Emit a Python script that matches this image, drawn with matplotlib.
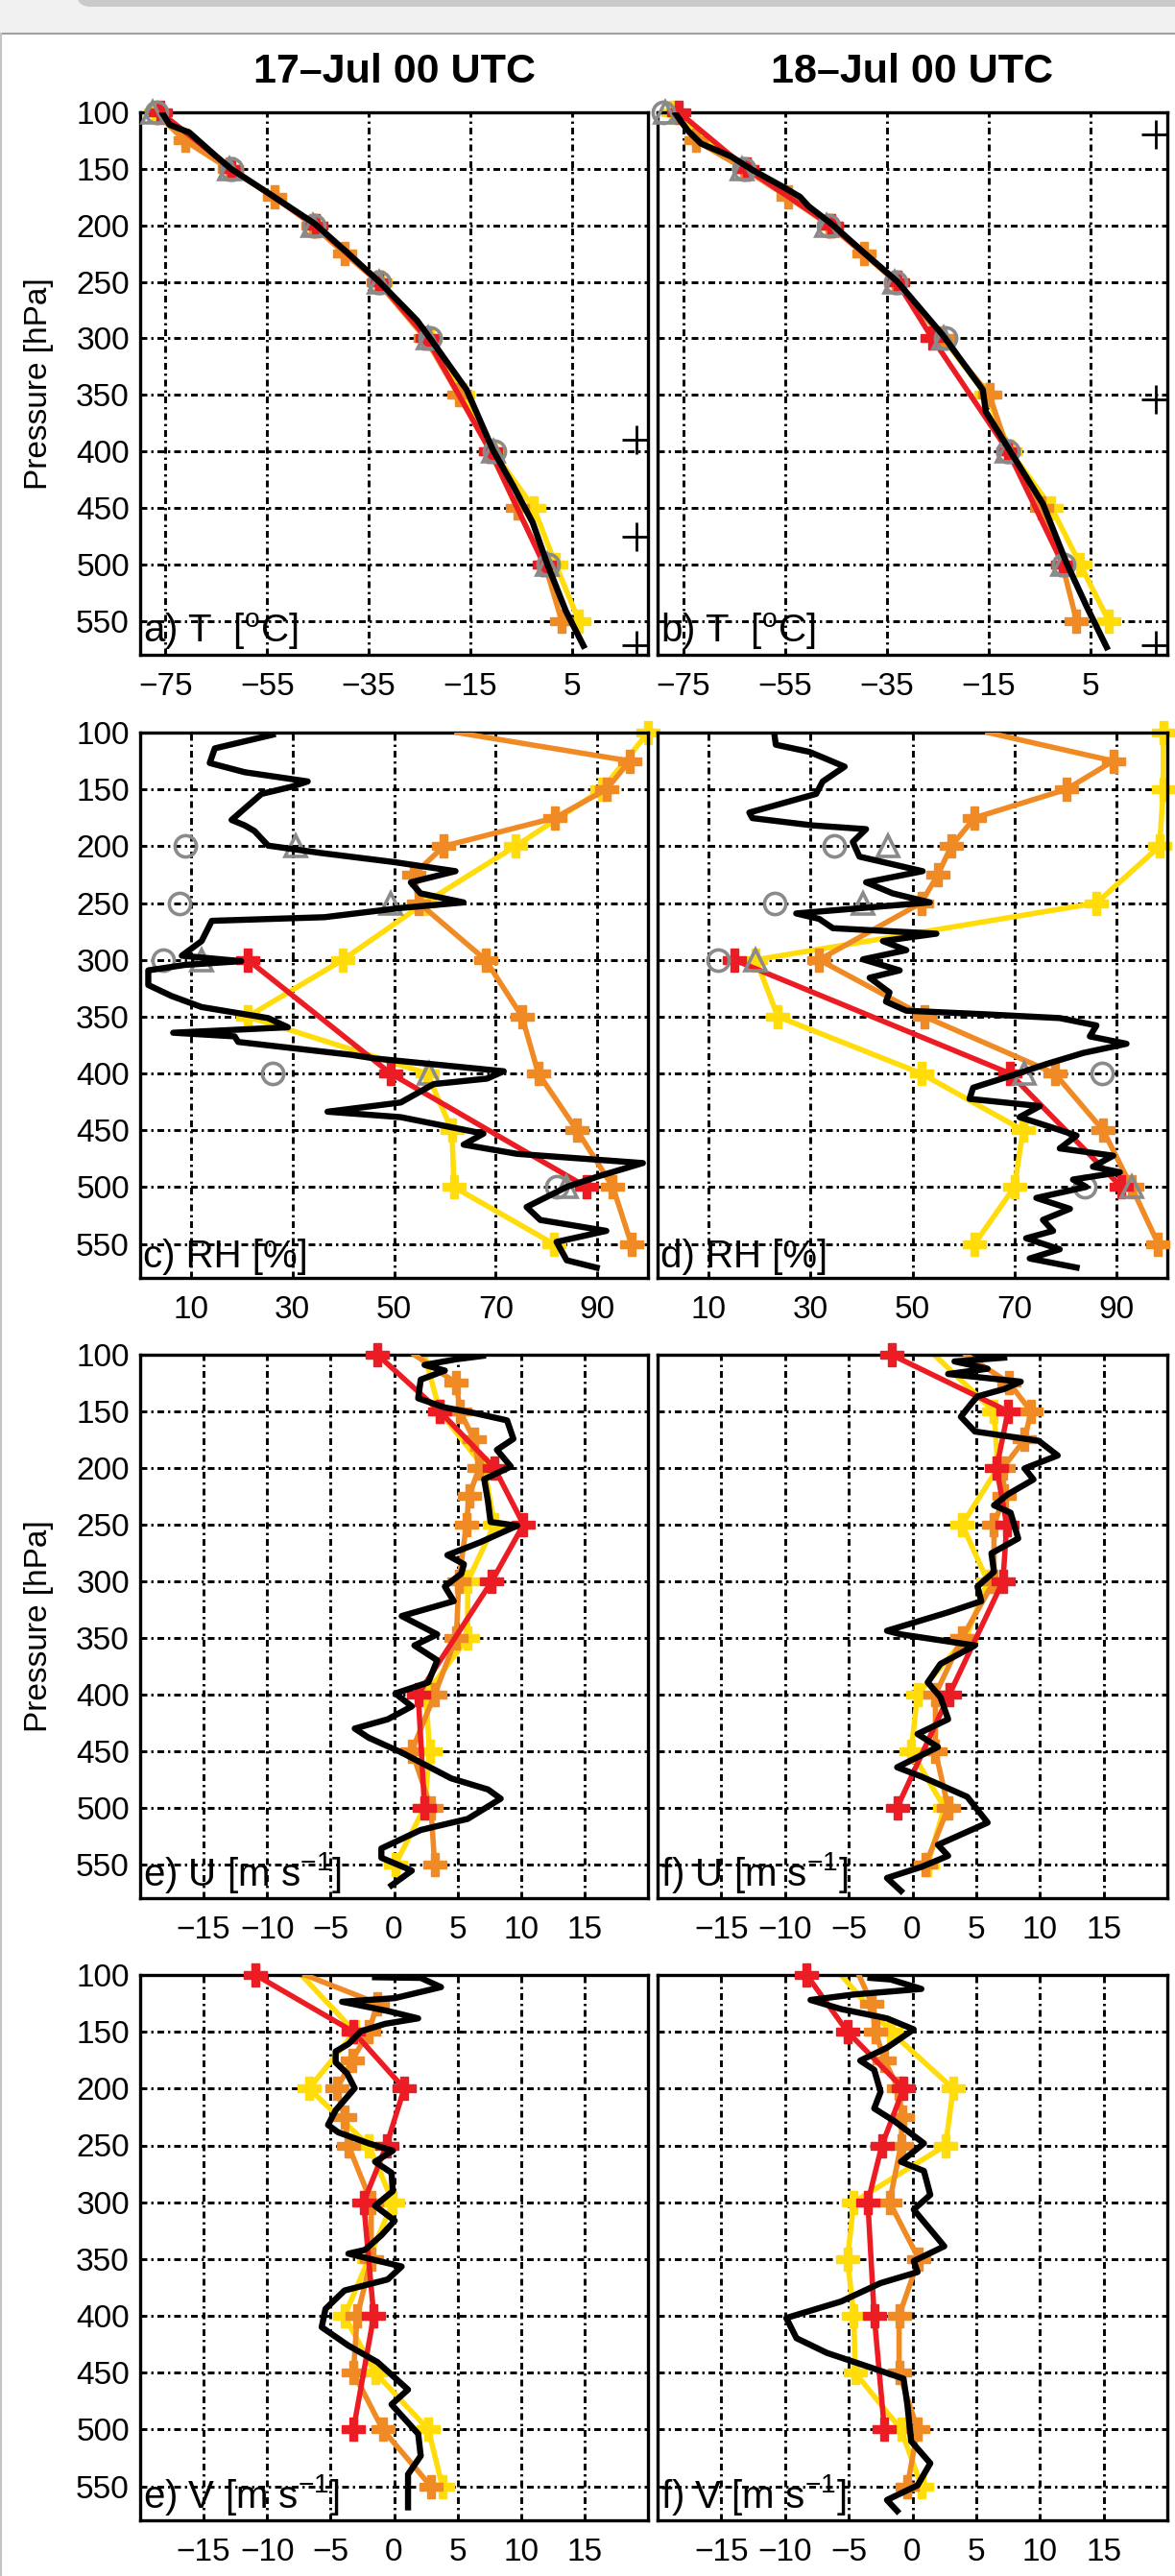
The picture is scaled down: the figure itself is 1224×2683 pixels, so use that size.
import matplotlib
matplotlib.use('Agg')
import matplotlib.pyplot as plt
from matplotlib.patches import Rectangle, FancyBboxPatch
from matplotlib.lines import Line2D
from matplotlib.transforms import IdentityTransform

plt.rcParams['font.family'] = ['Liberation Sans', 'DejaVu Sans']
plt.rcParams['mathtext.default'] = 'regular'

# ---------------- data ----------------
TITLES = ['17\u2013Jul 00 UTC', '18\u2013Jul 00 UTC']
P_OBS = [100, 150, 200, 250, 300, 400, 500]
P_RED = [100, 150, 200, 250, 300, 400, 500]
P_ORANGE = [100, 125, 150, 175, 200, 225, 250, 300, 350, 400, 450, 500, 550]
P_YELLOW = [100, 150, 200, 250, 300, 350, 400, 450, 500, 550]
P_RH_OBS = [200, 250, 300, 400, 500]
P_RH_RED = [300, 400, 500]

# Temperature 17 Jul
T17_black_p = [101.6, 111, 117.9, 139, 150, 171.6, 198.6, 225, 250, 284, 300, 345.6, 399, 430, 463, 500, 541, 572]
T17_black = [-75.5, -74.2, -70.3, -65, -62.1, -54.7, -45.6, -39, -32.9, -25.5, -22.9, -15.7, -10.5, -6.6, -2.7, 0.2, 3.8, 7.3]
T17_circ = [-76.8, -62.1, -45.8, -32.9, -23, -10.2, 0.4]
T17_tri = [-77.5, -62.5, -46, -33, -23.2, -10.5, 0.2]
T17_red = [-76, -62, -45.5, -33, -23.5, -11, -0.5]
T17_orange = [-77, -71.2, -62.5, -53.5, -46, -39.7, -33.2, -23.8, -17.3, -11, -5.8, -0.3, 3.0]
T17_yellow = [-77, -62, -45.5, -32.8, -23, -16.5, -10.5, -2.5, 1.8, 6.4]
T17_plus_p = [389.5, 475.7, 571.7]
T17_plus = [17.7, 17.7, 17.7]

# Temperature 18 Jul
T18_black_p = [101.6, 116, 127.6, 139, 150.4, 166.7, 175, 183, 199, 225, 249.6, 296.8, 345.6, 365, 399.3, 446.5, 498.5, 537.5, 573.3]
T18_black = [-76.4, -74.1, -71.5, -65.6, -61.6, -55.1, -52, -50.4, -45.8, -39.3, -33, -24.1, -16.2, -15.6, -10.9, -4.4, 0.2, 4.2, 8.1]
T18_circ = [-78.8, -63, -46.5, -33.3, -23.5, -11.3, -0.4]
T18_tri = [-78.5, -63.5, -46.8, -33.5, -23.8, -11.5, -0.6]
T18_red = [-75.8, -62.5, -46, -33, -26.1, -11.2, -0.5]
T18_orange = [-77, -72.5, -63, -54.4, -46.3, -39.6, -33.3, -24, -14.9, -11.2, -4.7, -0.6, 2.2]
T18_yellow = [-77, -62.5, -46, -33, -24, -15.5, -10.8, -2.7, 2.9, 8.5]
T18_plus_p = [119.5, 353.7, 571.7]
T18_plus = [17.7, 17.7, 17.7]

# RH 17 Jul
RH17_black_p = [101.9, 113.9, 126.8, 134.9, 143, 147.8, 154, 165.6, 176.9, 181.7, 186.6, 199.5, 206, 214, 222,
                231.8, 241.5, 249.5, 254.4, 262.5, 265.7, 283.5, 296.4, 301.2, 304.5, 309.3, 322.2, 331.9, 341.6,
                351.3, 359.4, 364.2, 367.4, 372.3, 383.6, 386.8, 398.1, 404.6, 409.4, 425.6, 433.7, 438.5, 453,
                462.7, 470.8, 478.9, 490.2, 499.9, 517.6, 529, 538.6, 548.3, 564.5, 571]
RH17_black = [26.1, 14.7, 13.7, 20.6, 33, 29.7, 23.9, 20.9, 18, 20.6, 22.5, 25.2, 35.6, 50, 62.1,
              53.3, 55.2, 63.7, 51.3, 36.3, 14.1, 12.1, 8.2, 19.9, 8.8, 1.6, 1.6, 6.2, 12.1,
              25.2, 29.1, 6.5, 18.6, 19.3, 41.5, 46.1, 71.6, 68.3, 57.8, 51.3, 36.9, 51.3, 67.6,
              63.7, 74.2, 99, 90.5, 84, 76.1, 78.8, 91.8, 82, 84, 89.9]
RH17_circ = [8.8, 7.8, 4.6, 26.1, 82]
RH17_tri = [30.7, 49.3, 12.1, 56.9, 84]
RH17_red = [21.2, 49.3, 87.9]
RH17_orange = [62.4, 96.4, 91.8, 81.7, 59.8, 53.9, 54.9, 68, 75.2, 78.4, 86, 93.1, 96.7]
RH17_yellow = [100, 91, 73.9, 56, 39.9, 21.2, 56.5, 61.4, 61.8, 81.4]

# RH 18 Jul
RH18_black_p = [101, 110.7, 117, 130, 143, 154, 170.4, 175.3, 181.7, 185, 196.3, 209.2, 222, 231.8, 241.5,
                249.5, 259.2, 264, 272.2, 277, 283.5, 291.5, 299.6, 309.3, 315.8, 328.7, 336.8, 344.8, 348,
                351.3, 357.8, 367.4, 373.9, 382, 391.7, 399.7, 412.6, 422.4, 428.8, 438.5, 445, 454.7, 466,
                472.4, 482.1, 487, 493.4, 499.9, 509.6, 519.2, 528.9, 538.6, 545.1, 554.8, 562.9, 570.9]
RH18_black = [22.9, 23.2, 29.8, 36.7, 32.4, 31.1, 18, 18.6, 30.4, 40.9, 38.3, 39.6, 52, 40.9, 46.1,
              53.4, 27.2, 31.7, 34.4, 54.7, 44.2, 48.8, 40.3, 47.5, 41.6, 45.5, 44.8, 48.8, 64.5,
              78.9, 86.1, 84.8, 92, 83.5, 76.3, 71, 61.9, 61.2, 75, 71, 75.6, 82.2, 78.9,
              89.4, 85.4, 90.7, 81.5, 84.1, 74.3, 80.9, 75.6, 77.6, 72.3, 78.9, 73, 82.2]
RH18_circ = [34.7, 22.9, 11.8, 87.1, 83.8]
RH18_tri = [45.2, 40.3, 19.3, 72, 93]
RH18_red = [15, 69.1, 91]
RH18_orange = [64.8, 89.4, 80.2, 62.2, 57.6, 55, 51.7, 31.7, 52.4, 77.9, 87.4, 93, 98.2]
RH18_yellow = [99.2, 99.2, 98.5, 86.1, 19.3, 23.6, 51.7, 71.7, 70, 62.2]

# U 17 Jul
U17_black_p = [101, 104, 109, 114, 122, 138.5, 146.6, 151.5, 158, 174.3, 184, 198.8, 210, 229.7, 247.7, 251,
               265.6, 277, 285, 293.3, 304.7, 317.7, 330.8, 347, 356.8, 369.9, 389.4, 399.2, 410.6, 422, 430.2,
               438.3, 451.4, 474.2, 484, 492.1, 510, 519.8, 536.1, 544.3, 555.7, 568.7]
U17_black = [7, 4.9, 2.4, 4, 2.1, 1.9, 4, 6.3, 8.9, 9.4, 8.1, 9.2, 7.1, 7.4, 7.6, 9.7,
             6.8, 4.2, 5.5, 5.3, 4, 4.7, 0.6, 3.4, 1.6, 3.4, 2.7, 0.1, 1.4, -0.5, -3.1,
             -2, 0.6, 4.5, 7.4, 8.4, 5.8, 2.1, -1, -1, 1.4, -0.2]
U17_red = [-1.3, 3.6, 7.9, 10.2, 7.7, 1.9, 2.4]
U17_orange = [1.6, 4.9, 5.2, 6.3, 6.7, 5.9, 5.7, 5.1, 4.9, 3.2, 1.4, 2.9, 3.2]
U17_yellow = [2.4, 3.6, 7.1, 7.9, 5.8, 5.8, 2.5, 2.8, 2.4, 0.1]

# U 18 Jul
U18_black_p = [102.6, 105.9, 112.4, 117, 123.8, 130.3, 136.8, 143.4, 154.8, 167.8, 176, 189, 200.4, 210.2,
               223.2, 233, 239.5, 262.3, 275.4, 291.7, 304.7, 317.7, 327.5, 343.8, 347, 356.8, 373.1, 389.4,
               402.5, 422, 435, 446.5, 464.4, 472.6, 490.5, 513.3, 532.9, 542.6, 552.4, 562.2, 573.6]
U18_black = [7.2, 3.3, 5.9, 2.8, 8.5, 7.2, 5.1, 4.6, 3.8, 4.9, 9.9, 11.4, 8.8, 9.5,
             7.5, 6.4, 7.7, 8.3, 6.2, 6.4, 5.1, 5.4, 2.8, -2, -0.9, 4.9, 2.2, 1.2,
             2.2, 2.8, 0.4, 2, -1.2, 0.7, 4.3, 5.9, 2, 2.8, 0.7, -2, -0.9]
U18_red = [-1.65, 7.5, 6.6, 7.4, 7.1, 2.9, -1.2]
U18_orange = [4.2, 7.6, 9.3, 8.8, 7.1, 7.2, 6.4, 6.4, 3.9, 1.8, 1.8, 2.8, 1.05]
U18_yellow = [1.7, 6.4, 6.7, 3.9, 5.9, 4.2, 0.4, -0.1, 2.5, 1.2]

# V 17 Jul
V17_black_p = [102, 102.6, 110.7, 120.4, 123.6, 131.7, 138.2, 143, 149.5, 160.8, 167.3, 177, 186.7, 199.7,
               219.1, 232, 238.5, 248.2, 254.7, 264.4, 274.1, 290.3, 303.2, 316.2, 329.1, 342, 345.3, 356.6,
               368, 377.7, 393.9, 410, 426.2, 440.8, 465, 478, 503.9, 523.3, 539.5, 568.6]
V17_black = [-1.5, 2.1, 3.7, 0.05, -4.1, -0.5, 1.9, -0.7, -2.6, -3.6, -4.6, -4.6, -3.7, -3.1,
             -4.6, -5.2, -4.4, -2, -0.1, -1.5, -0.2, -0.1, -1.5, 0.05, -1, -2.3, -3.6, 0.6,
             -0.5, -3.9, -5.4, -5.7, -3.6, -1.3, 1.1, -0.2, 1.9, 2.1, 1.1, 1.1]
V17_red = [-10.9, -3.2, 0.8, -0.6, -2.4, -1.6, -3.2]
V17_orange = [-7, -1.3, -2, -3.3, -4.5, -3.9, -3.6, -1.8, -1.8, -2.9, -3.2, -0.9, 2.9]
V17_yellow = [-7.3, -3.1, -6.7, -2, -0.1, -2, -3.9, -1.5, 2.7, 3.8]

# V 18 Jul
V18_black_p = [102.6, 104, 112.3, 117.2, 122, 130, 138.2, 147.9, 164, 175.4, 183.5, 202.9, 217.5, 228.8,
               248.2, 264.4, 272.5, 293.5, 306.5, 338.8, 351.8, 361.5, 371.2, 387.4, 401.9, 419.7, 432.7,
               442.4, 455.3, 478, 510.4, 529.8, 549.2, 562.1, 571.8]
V18_black = [-3.3, -1.7, 0.7, -4.6, -8, -5.6, -2, 0.1, -2, -4.1, -3, -2.5, -3, -1.4,
             0.9, -0.9, 0.9, 1.4, 0.1, 2.5, 0.1, 0.4, -2.5, -5.6, -9.9, -9.1, -6.7,
             -4.1, -0.7, -0.4, -0.1, 1.4, 0.4, -2, -1.2]
V18_red = [-8.3, -5.1, -0.7, -2.4, -3.5, -3, -2.2]
V18_orange = [-4.2, -3.2, -2.9, -2.2, -1.1, -0.8, -0.9, -1.8, 0.5, -1.05, -1.05, 0.4, -0.4]
V18_yellow = [-5.6, -1.7, 3.2, 2.6, -4.6, -5.1, -4.6, -4.5, -0.9, 0.7]

X_LIMS = [(-80, 20), (0, 100), (-20, 20), (-20, 20)]
X_TICKS = [[-75, -55, -35, -15, 5], [10, 30, 50, 70, 90],
           [-15, -10, -5, 0, 5, 10, 15], [-15, -10, -5, 0, 5, 10, 15]]
Y_TICKS = [100, 150, 200, 250, 300, 350, 400, 450, 500, 550]
LABELS = [[r'a) T  [$^{o}$C]', r'b) T  [$^{o}$C]'],
          ['c) RH [%]', 'd) RH [%]'],
          [r'e) U [m s$^{-1}$]', r'f) U [m s$^{-1}$]'],
          [r'e) V [m s$^{-1}$]', r'f) V [m s$^{-1}$]']]

RED = '#ec1c24'
ORANGE = '#f08a24'
YELLOW = '#ffdc0a'
GRAY = '#8a8a8a'

# ---------------- figure ----------------
W, H = 1224, 2683
fig = plt.figure(figsize=(W / 100, H / 100), dpi=100)
fig.patch.set_facecolor('white')

# screenshot frame decoration
fig.patches.append(Rectangle((0, H - 35), W, 35, transform=IdentityTransform(),
                             fc='#f1f1f1', ec='none', zorder=0))
fig.patches.append(FancyBboxPatch((80, H - 7), W, 30, boxstyle='round,pad=0,rounding_size=14',
                                  transform=IdentityTransform(), fc='#cacaca', ec='none', zorder=0))
fig.lines.append(Line2D([0, W], [H - 35, H - 35], transform=IdentityTransform(), color='#a0a0a0', lw=1.5))
fig.lines.append(Line2D([1, 1], [0, H - 35], transform=IdentityTransform(), color='#c4c4c4', lw=1.5))

COLS = [(146, 675), (685, 1216)]
ROWS = [(117, 682), (763, 1331), (1411, 1977), (2057, 2625)]

GRID_LS = (0, (2.4, 1.4, 0.8, 1.4))


def make_ax(r, c):
    x0, x1 = COLS[c]
    y0, y1 = ROWS[r]
    ax = fig.add_axes([x0 / W, 1 - y1 / H, (x1 - x0) / W, (y1 - y0) / H])
    ax.set_xlim(*X_LIMS[r])
    ax.set_ylim(580, 100)
    ax.set_xticks(X_TICKS[r])
    ax.set_yticks(Y_TICKS)
    ax.grid(True, color='black', lw=2.1, ls=GRID_LS)
    ax.set_axisbelow(True)
    for s in ax.spines.values():
        s.set_linewidth(2.4)
    ax.tick_params(length=0, labelsize=24, pad=13)
    ax.tick_params(axis='y', pad=8)
    if c == 1:
        ax.tick_params(labelleft=False)
    ax.text(0.006, 0.006, LABELS[r][c], transform=ax.transAxes, ha='left', va='bottom',
            fontsize=29, zorder=10)
    return ax


def colored(ax, x, p, color, mstart=0, z=3):
    ax.plot(x, p, color=color, lw=4.0, zorder=z, clip_on=True, solid_joinstyle='round')
    ax.plot(x[mstart:], p[mstart:], ls='none', marker='P', ms=17, color=color, mec=color,
            clip_on=False, zorder=z)


def gray(ax, circ, tri, p):
    ax.plot(circ, p, ls='none', marker='o', ms=16, mfc='none', mec=GRAY, mew=2.6, zorder=4, clip_on=False)
    ax.plot(tri, p, ls='none', marker='^', ms=16, mfc='none', mec=GRAY, mew=2.6, zorder=4, clip_on=False)


def black(ax, x, p):
    ax.plot(x, p, color='black', lw=4.6, zorder=6, solid_joinstyle='round')


# Row 1: temperature
for c, (blk_p, blk, circ, tri, red, ora, yel, pp, px) in enumerate([
        (T17_black_p, T17_black, T17_circ, T17_tri, T17_red, T17_orange, T17_yellow, T17_plus_p, T17_plus),
        (T18_black_p, T18_black, T18_circ, T18_tri, T18_red, T18_orange, T18_yellow, T18_plus_p, T18_plus)]):
    ax = make_ax(0, c)
    colored(ax, yel, P_YELLOW, YELLOW, mstart=0, z=2)
    colored(ax, ora, P_ORANGE, ORANGE, mstart=1, z=3)
    colored(ax, red, P_RED, RED, mstart=0, z=3.5)
    gray(ax, circ, tri, P_OBS)
    black(ax, blk, blk_p)
    ax.plot(px, pp, ls='none', marker='+', ms=22, mew=2.0, color='black', clip_on=True, zorder=7)
    ax.set_title(TITLES[c], fontsize=31, fontweight='bold', pad=22)

# Row 2: RH
for c, (blk_p, blk, circ, tri, red, ora, yel) in enumerate([
        (RH17_black_p, RH17_black, RH17_circ, RH17_tri, RH17_red, RH17_orange, RH17_yellow),
        (RH18_black_p, RH18_black, RH18_circ, RH18_tri, RH18_red, RH18_orange, RH18_yellow)]):
    ax = make_ax(1, c)
    colored(ax, yel, P_YELLOW, YELLOW, mstart=0, z=2)
    colored(ax, ora, P_ORANGE, ORANGE, mstart=1, z=3)
    colored(ax, red, P_RH_RED, RED, mstart=0, z=3.5)
    gray(ax, circ, tri, P_RH_OBS)
    black(ax, blk, blk_p)

# Rows 3-4: wind
for r, sets in [(2, [(U17_black_p, U17_black, U17_red, U17_orange, U17_yellow),
                     (U18_black_p, U18_black, U18_red, U18_orange, U18_yellow)]),
                (3, [(V17_black_p, V17_black, V17_red, V17_orange, V17_yellow),
                     (V18_black_p, V18_black, V18_red, V18_orange, V18_yellow)])]:
    for c, (blk_p, blk, red, ora, yel) in enumerate(sets):
        ax = make_ax(r, c)
        colored(ax, yel, P_YELLOW, YELLOW, mstart=1, z=2)
        colored(ax, ora, P_ORANGE, ORANGE, mstart=1, z=3)
        colored(ax, red, P_RED, RED, mstart=0, z=3.5)
        black(ax, blk, blk_p)

# y labels
for r in (0, 2):
    y0, y1 = ROWS[r]
    fig.text(41 / W, 1 - (y0 + y1) / 2 / H, 'Pressure [hPa]', rotation=90, ha='center', va='center',
             fontsize=24)

fig.savefig('out.png', dpi=100)
